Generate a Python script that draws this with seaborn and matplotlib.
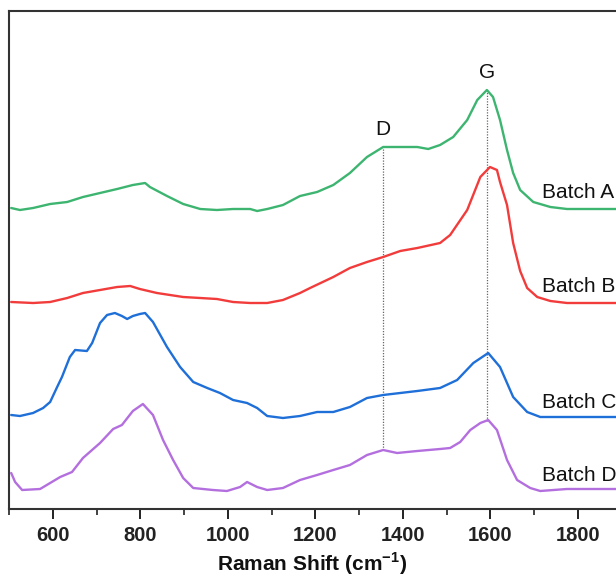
import numpy as np
import pandas as pd
import matplotlib
matplotlib.use("Agg")
import matplotlib.pyplot as plt
import seaborn as sns
from matplotlib.ticker import MultipleLocator

# ---- data (Raman shift in cm^-1, stacked intensity in arbitrary units) ----
a_x = [505, 525, 555, 594, 633, 669, 708, 747, 783, 811, 822, 861, 898, 937, 975, 1012,
       1051, 1067, 1090, 1126, 1165, 1204, 1241, 1279, 1318, 1355, 1394, 1433, 1458, 1485,
       1515, 1547, 1570, 1592, 1606, 1622, 1638, 1652, 1668, 1698, 1737, 1775, 1887]
a_y = [301, 299, 301, 305, 307, 312, 316, 320, 324, 326, 322, 313, 305, 300, 299, 300,
       300, 298, 300, 304, 313, 317, 324, 336, 352, 362, 362, 362, 360, 364,
       372, 389, 409, 419, 412, 389, 359, 336, 319, 307, 302, 300, 300]

b_x = [505, 555, 594, 633, 669, 708, 747, 777, 799, 838, 898, 937, 975, 1012, 1051, 1090,
       1126, 1165, 1188, 1241, 1279, 1318, 1355, 1394, 1433, 1485, 1508, 1547, 1577, 1599,
       1615, 1622, 1638, 1652, 1668, 1684, 1707, 1737, 1775, 1887]
b_y = [207, 206, 207, 211, 216, 219, 222, 223, 220, 216, 212, 211, 210, 207, 206, 206,
       209, 216, 221, 232, 241, 247, 252, 258, 261, 266, 274, 299, 332, 342,
       339, 327, 304, 266, 238, 221, 212, 208, 206, 206]

c_x = [505, 525, 555, 578, 594, 610, 621, 639, 651, 678, 690, 708, 724, 742, 758, 770,
       783, 799, 811, 829, 861, 891, 921, 953, 982, 1012, 1044, 1067, 1090, 1126, 1165,
       1204, 1241, 1279, 1318, 1355, 1394, 1433, 1485, 1524, 1561, 1595, 1622, 1652, 1684,
       1714, 1775, 1887]
c_y = [94, 93, 96, 101, 107, 122, 132, 152, 159, 158, 166, 186, 194, 196, 193, 190,
       193, 195, 196, 187, 162, 142, 127, 121, 116, 109, 106, 101, 93, 91, 93,
       97, 97, 102, 111, 114, 116, 118, 121, 129, 146, 156, 142, 112, 97,
       92, 92, 92]

d_x = [505, 514, 530, 571, 594, 617, 644, 669, 708, 738, 758, 783, 806, 829, 852, 875,
       898, 921, 966, 998, 1028, 1044, 1067, 1090, 1126, 1165, 1204, 1241, 1279, 1318,
       1355, 1387, 1433, 1485, 1508, 1531, 1554, 1577, 1595, 1615, 1638, 1661, 1691, 1714,
       1775, 1887]
d_y = [36, 27, 19, 20, 26, 32, 37, 51, 66, 80, 84, 98, 105, 94, 69, 49,
       31, 21, 19, 18, 22, 27, 22, 19, 21, 29, 34, 39, 44, 54,
       59, 56, 58, 60, 61, 67, 79, 86, 89, 79, 49, 29, 21, 18,
       20, 20]

batches = ["Batch A", "Batch B", "Batch C", "Batch D"]
colors = ["#3DB570", "#F23C3C", "#1F6FD8", "#B46FDF"]
peak_names = ["D", "G"]
peak_pos = [1355, 1592]
x_ticks = [600, 800, 1000, 1200, 1400, 1600, 1800]

frames = []
for name, xs, ys in zip(batches, [a_x, b_x, c_x, d_x], [a_y, b_y, c_y, d_y]):
    frames.append(pd.DataFrame({"shift": xs, "intensity": ys, "batch": name}))
df = pd.concat(frames, ignore_index=True)

# ---- style ----
sns.set_theme(style="ticks")
plt.rcParams["font.family"] = ["Liberation Sans", "DejaVu Sans"]

fig = plt.figure(figsize=(6.16, 5.77), dpi=100)
ax = fig.add_axes([9 / 616, 1 - 509 / 577, 1 - 9 / 616, (509 - 11) / 577])

sns.lineplot(data=df, x="shift", y="intensity", hue="batch", palette=colors,
             hue_order=batches, sort=False, legend=False, linewidth=1.7, ax=ax)

ax.set_xlim(500, 1887)
ax.set_ylim(0, 498)

# dotted peak markers, from top curve to bottom curve
for name, pos in zip(peak_names, peak_pos):
    ytop = np.interp(pos, a_x, a_y)
    ybot = np.interp(pos, d_x, d_y)
    ax.plot([pos, pos], [ybot, ytop], linestyle=(0, (1, 1.2)), color="#666666",
            linewidth=0.9, zorder=1)
    ax.text(pos, ytop + 18, name, ha="center", va="center", fontsize=15, color="#111111")

# batch labels on the right
label_y = [np.interp(1740, xs, ys) for xs, ys in zip([a_x, b_x, c_x, d_x], [a_y, b_y, c_y, d_y])]
for name, yv in zip(batches, label_y):
    ax.text(1718, yv + 15, name, ha="left", va="center", fontsize=15, color="#111111")

ax.set_xticks(x_ticks)
ax.xaxis.set_minor_locator(MultipleLocator(100))
ax.set_yticks([])
ax.tick_params(axis="x", which="major", length=7, width=1.4, direction="out",
               labelsize=14.5, colors="#222222", pad=5)
ax.tick_params(axis="x", which="minor", length=4, width=1.2, direction="out", colors="#222222")
for lab in ax.get_xticklabels():
    lab.set_fontweight("bold")

ax.set_xlabel("Raman Shift (cm$^{\\mathdefault{-1}}$)", fontsize=15, fontweight="bold",
              color="#111111", labelpad=4)
ax.set_ylabel("")

for side in ["left", "top", "bottom"]:
    ax.spines[side].set_linewidth(1.5)
    ax.spines[side].set_color("#333333")
ax.spines["right"].set_visible(False)

fig.savefig("out.png", dpi=100)
